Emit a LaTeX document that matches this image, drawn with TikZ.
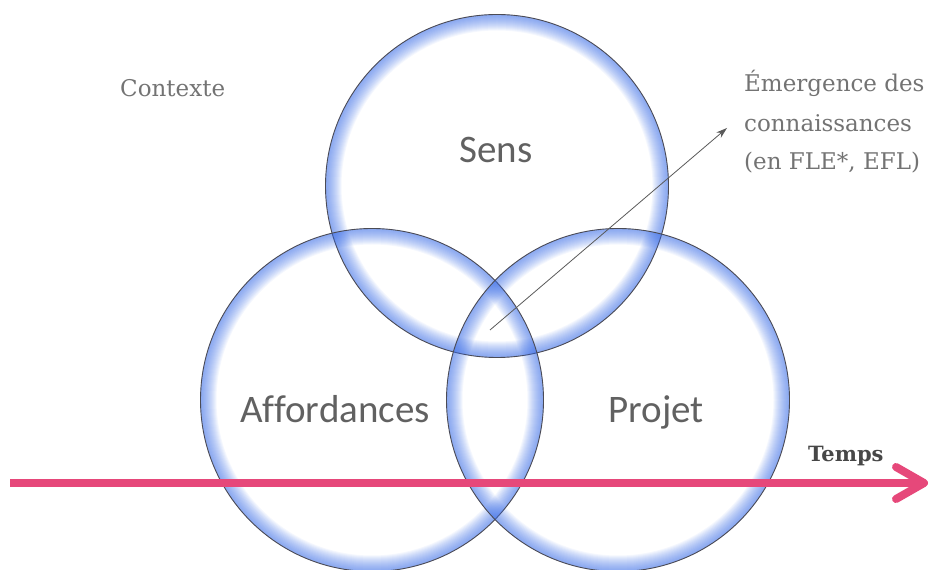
\documentclass[tikz,border=0pt]{standalone}
\usepackage{fontspec}
\setmainfont{DejaVu Serif}
\newfontfamily\circlefont[Ligatures=NoCommon]{Carlito}
\usetikzlibrary{arrows.meta}
\definecolor{glowblue}{RGB}{60,110,230}
\definecolor{timepink}{RGB}{230,72,122}
\definecolor{rimgray}{RGB}{75,75,85}

\begin{document}
\begin{tikzpicture}[x=1pt,y=1pt,
  ring/.style={circle,minimum size=343pt,inner sep=0pt,draw=rimgray,line width=.9pt,
    path picture={\foreach \k in {1,...,16}
      \draw[glowblue,opacity=.055,line width={\k*2pt}] (path picture bounding box.center) circle (171.5);}},
  ringlabel/.style={font=\circlefont\fontsize{39}{39}\selectfont,text=black!62,anchor=base,inner sep=0pt},
  note/.style={font=\fontsize{23}{23}\selectfont,text=black!55,anchor=base west,inner sep=0pt},
  emerge/.style={draw=black!65,line width=.8pt,-{Stealth[length=11pt,width=7pt]}},
  timeline/.style={draw=timepink,line width=8pt,-{Straight Barb[length=28pt,width=32pt,round]}}]
\useasboundingbox (0,0) rectangle (942,570);
% The three circles: meaning on top, affordances and project below
\node [ring] (sens) at (497,384) {};
\node [ring] (aff) at (372,170) {};
\node [ring] (proj) at (618,170) {};
% Names inside the circles
\node [ringlabel] (sensl) at (496,407) {Sens};
\node [ringlabel] (affl) at (335,147) {Affordances};
\node [ringlabel] (projl) at (656,147) {Projet};
% Context in the upper left corner
\node [note] (ctx) at (120,473) {Contexte};
% Knowledge emerging from the common zone
\coordinate (core) at (490,240);
\coordinate (out) at (727,442);
\draw [emerge] (core) -- (out);
\node [note] (em1) at (744,478) {Émergence des};
\node [note] (em2) at (744,438) {connaissances};
\node [note] (em3) at (744,400) {(en FLE*, EFL)};
% Time axis
\coordinate (t0) at (10,87);
\coordinate (t1) at (928,87);
\draw [timeline] (t0) -- (t1);
\node [note,font=\bfseries\fontsize{21}{21}\selectfont,text=black!72] (temps) at (808,108) {Temps};
\end{tikzpicture}
\end{document}
